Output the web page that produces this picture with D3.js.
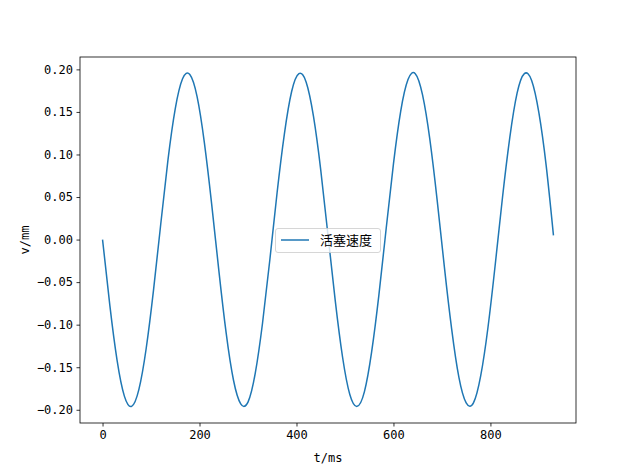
<!DOCTYPE html>
<html><head><meta charset="utf-8">
<script src="https://cdn.jsdelivr.net/npm/d3@7"></script>
<style>body{margin:0;background:#fff}</style>
</head><body>
<svg id="c" width="640" height="476"></svg>
<script>
// time samples (ms)
const times = [0,15,30,45,60,75,90,105,120,135,150,165,180,195,210,225,240,255,270,285,300,315,330,345,360,375,390,405,420,435,450,465,480,495,510,525,540,555,570,585,600,615,630,645,660,675,690,705,720,735,750,765,780,795,810,825,840,855,870,885,900,915,930];
// piston velocity values
const velocity = [0,-0.077,-0.142,-0.184,-0.196,-0.176,-0.128,-0.060,0.018,0.094,0.154,0.189,0.194,0.168,0.114,0.042,-0.037,-0.110,-0.165,-0.193,-0.191,-0.157,-0.098,-0.024,0.055,0.124,0.174,0.195,0.185,0.145,0.082,0.005,-0.072,-0.138,-0.182,-0.196,-0.179,-0.132,-0.065,0.013,0.089,0.151,0.188,0.195,0.170,0.118,0.047,-0.032,-0.105,-0.162,-0.192,-0.192,-0.160,-0.103,-0.029,0.050,0.120,0.172,0.195,0.187,0.149,0.087,0.005];
const xTicks = [0,200,400,600,800];
const yTicks = [-0.20,-0.15,-0.10,-0.05,0.00,0.05,0.10,0.15,0.20];
const seriesName = "活塞速度";
const xLabel = "t/ms", yLabel = "v/mm";

const data = times.map((t,i)=>({t, v: velocity[i]}));
const svg = d3.select("#c");
const L=80, R=576, T=57, B=423;
const xmin=d3.min(times), xmax=d3.max(times);
const ymin=d3.min(velocity), ymax=d3.max(velocity);
const xm=(xmax-xmin)*0.05, ym=(ymax-ymin)*0.05;
const x = d3.scaleLinear().domain([xmin-xm, xmax+xm]).range([L,R]);
const y = d3.scaleLinear().domain([ymin-ym, ymax+ym]).range([B,T]);

const tickFont = "DejaVu Sans Mono, monospace";

svg.append("path").datum(data)
  .attr("fill","none").attr("stroke","#1f77b4").attr("stroke-width",1.5)
  .attr("stroke-linejoin","round").attr("stroke-linecap","butt")
  .attr("d", d3.line().x(d=>x(d.t)).y(d=>y(d.v)).curve(d3.curveNatural));

const xa = svg.append("g").attr("transform",`translate(0,${B})`)
  .call(d3.axisBottom(x).tickValues(xTicks).tickFormat(d3.format("d")).tickSize(3.5).tickPadding(3.5));
const ya = svg.append("g").attr("transform",`translate(${L},0)`)
  .call(d3.axisLeft(y).tickValues(yTicks).tickFormat(d3.format(".2f")).tickSize(3.5).tickPadding(3.5));
[xa,ya].forEach(a=>{
  a.select(".domain").remove();
  a.selectAll(".tick line").attr("stroke","#000").attr("stroke-width",0.8);
  a.selectAll(".tick text").attr("font-family",tickFont).attr("font-size","12px").attr("fill","#000");
});
ya.selectAll(".tick text").text(d=>d3.format(".2f")(d).replace("-","\u2212"));

svg.append("rect").attr("x",L).attr("y",T).attr("width",R-L).attr("height",B-T)
  .attr("fill","none").attr("stroke","#000").attr("stroke-width",0.8);

svg.append("text").attr("x",(L+R)/2).attr("y",462).attr("text-anchor","middle")
  .attr("font-family",tickFont).attr("font-size","12px").text(xLabel);
svg.append("text").attr("transform",`translate(29,${(T+B)/2}) rotate(-90)`).attr("text-anchor","middle")
  .attr("font-family",tickFont).attr("font-size","12px").text(yLabel);

// legend
const lg = svg.append("g");
lg.append("rect").attr("x",275.5).attr("y",228.5).attr("width",105).attr("height",24).attr("rx",2.5)
  .attr("fill","#fff").attr("fill-opacity",0.8).attr("stroke","#cccccc").attr("stroke-width",0.8);
lg.append("line").attr("x1",281).attr("x2",309).attr("y1",240).attr("y2",240)
  .attr("stroke","#1f77b4").attr("stroke-width",1.5);
lg.append("text").attr("x",320).attr("y",245).attr("font-family","Noto Sans CJK SC, sans-serif")
  .attr("font-size","13px").text(seriesName);
</script>
</body></html>
